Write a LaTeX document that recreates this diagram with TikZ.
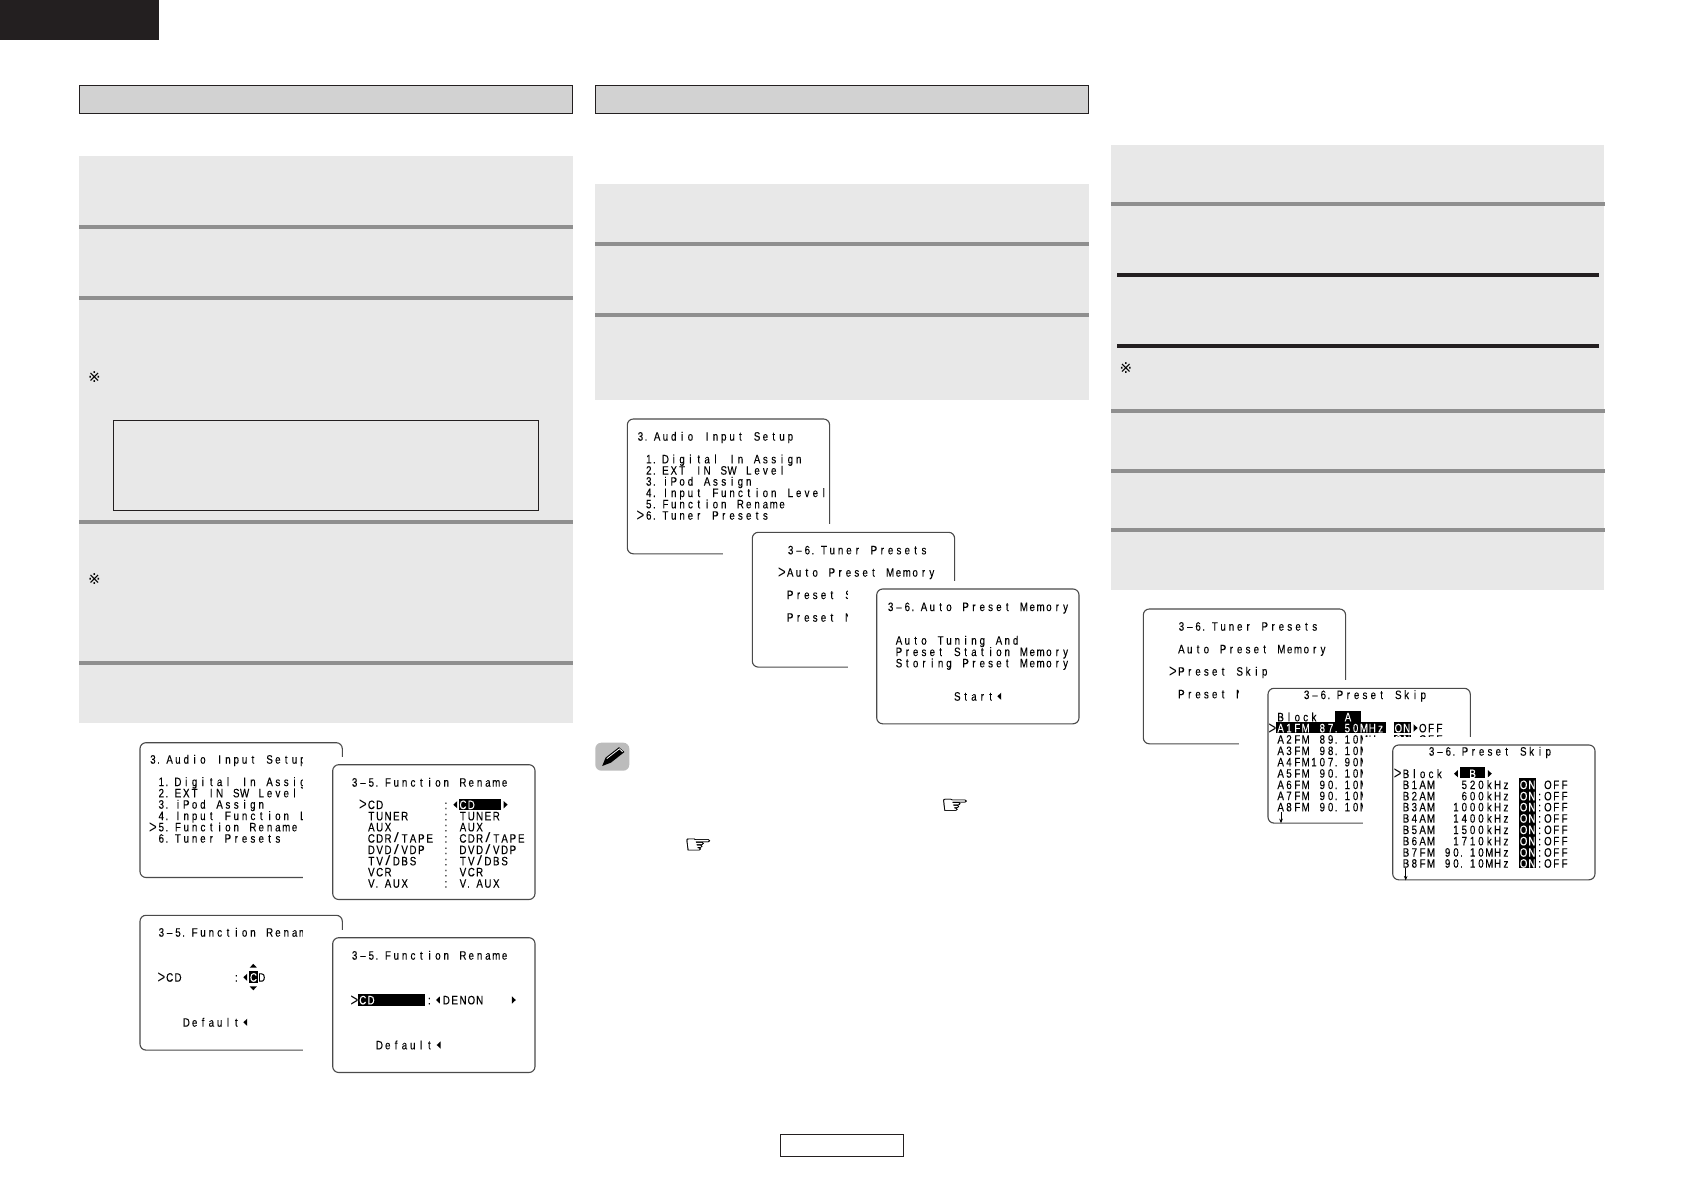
\documentclass[tikz,border=0pt]{standalone}
\usepackage{fontspec}
\usepackage{xcolor}
\usetikzlibrary{arrows.meta}

\newfontfamily\lcdfont[FakeStretch=0.8,FakeBold=0.1]{Liberation Sans}
\newfontfamily\lcdthin[FakeStretch=0.8]{Liberation Sans}
\newfontfamily\symfont{DejaVu Sans}
\newfontfamily\handfont[FakeBold=0.6]{DejaVu Sans}

\definecolor{inkblack}{HTML}{231F20}
\definecolor{headgray}{HTML}{D2D2D2}
\definecolor{panelgray}{HTML}{E8E8E8}
\definecolor{rulegray}{HTML}{8F8F8F}
\definecolor{screenline}{HTML}{4A4A4A}

% one character per cell of the on-screen grid
\def\lcdpitch{8.33pt}
\def\lcdslash{\scalebox{1.9}[1.12]{\lcdthin /}}
\def\lcdmark{\raisebox{-1.7pt}{\scalebox{1.35}[1.5]{\lcdthin >}}}
\def\lcdcell#1{\ifx#1.\makebox[\lcdpitch][l]{.}\else\ifx#1>\makebox[\lcdpitch][c]{\lcdmark}\else\makebox[\lcdpitch][c]{#1}\fi\fi}
\def\lcdnext#1{\ifx#1\relax\else\lcdcell{#1}\expandafter\lcdnext\fi}
\newcommand{\lcdline}[1]{\lcdnext#1\relax}
\newcommand{\lcdtext}[1]{\expandafter\lcdline\expandafter{#1}}
\newcommand{\triLeft}[2]{\fill (#1,#2) -- ++(3.9,-3.6) -- ++(0,7.2) -- cycle;}
\newcommand{\triRight}[2]{\fill (#1,#2) -- ++(-3.9,-3.6) -- ++(0,7.2) -- cycle;}

\tikzset{
  lcd/.style={anchor=base west,inner sep=0pt,outer sep=0pt,yshift=-4.35pt,
    font=\fontsize{12.2}{13}\selectfont\lcdfont},
  lcdinv/.style={lcd,text=white},
  screen/.style={draw=screenline,fill=white,line width=1.1pt,rounded corners=6pt},
  headbar/.style={draw=inkblack,fill=headgray,line width=1.2pt},
  panel/.style={fill=panelgray},
  rulebar/.style={fill=rulegray},
  blackbar/.style={fill=inkblack},
  notemark/.style={font=\fontsize{15}{16}\selectfont\symfont},
  hand/.style={font=\fontsize{25}{26}\selectfont\handfont},
  lcdarrow/.style={-{Stealth[width=3.6pt,length=4.5pt]},line width=0.6pt}
}

\begin{document}
\begin{tikzpicture}[x=1pt,y=-1pt]
    \pgfmathsetmacro{\screenWidth}{202.3}
    \pgfmathsetmacro{\screenHeight}{134.8}
    \useasboundingbox (0,0) rectangle (1682,1190);

    % Corner tab
    \fill[inkblack] (0,0) rectangle (159,40);

    % Head bars
    \draw[headbar] (79.2,85.6) rectangle (572.6,113.4);
    \draw[headbar] (595.4,85.6) rectangle (1088.8,113.4);

    % Left panel
    \fill[panel] (78.8,156) rectangle (573,722.7);
    \foreach \y in {225,296,520,661}
      \fill[rulebar] (78.8,\y) rectangle (573,\y+4);
    \draw[draw=inkblack,line width=1pt] (113.4,420.3) rectangle (538.7,510.3);
    \node[notemark] (noteLeftA) at (94.4,376.7) {※};
    \node[notemark] (noteLeftB) at (94.4,579.3) {※};

    % Middle panel
    \fill[panel] (595,184) rectangle (1089,400);
    \foreach \y in {242,313}
      \fill[rulebar] (595,\y) rectangle (1089,\y+4);

    % Right panel
    \fill[panel] (1111,144.7) rectangle (1604,590);
    \foreach \y in {202,409,469,528}
      \fill[rulebar] (1111,\y) rectangle (1605,\y+4);
    \foreach \y in {273,344}
      \fill[blackbar] (1117,\y) rectangle (1599,\y+4);
    \node[notemark] (noteRight) at (1126,368.3) {※};

    % Page number box
    \draw[draw=inkblack,line width=1.2pt] (780.3,1134.3) rectangle (903.3,1156.3);

    % Note icon and hands
    \fill[rulegray!60,rounded corners=6pt] (595.3,742.7) rectangle (629.3,770.7);
    \fill[black] (602.2,766) -- (605.6,757.6) -- (619,747.2) -- (624.4,752) -- (611,762.6) -- cycle;
    \draw[white,line width=0.8pt] (606.8,758.6) -- (619.4,748.8) -- (622.6,751.8);
    \node[hand] (handA) at (955,806) {\scalebox{1.3}[1]{☞}};
    \node[hand] (handB) at (698.3,845.7) {\scalebox{1.3}[1]{☞}};

    % Audio Input Setup, left column
    \draw[screen] (140,742.7) rectangle ++(\screenWidth,\screenHeight);
    \foreach \i/\y/\txt in {0/759.3/3.Audio~Input~Setup,
                            1/781.7/~1.Digital~In~Assig,
                            2/793/~2.EXT~IN~SW~Level,
                            3/804.3/~3.iPod~Assign,
                            4/815.7/~4.Input~Function~L,
                            5/827/>5.Function~Rename,
                            6/838.3/~6.Tuner~Presets}
      \node[lcd] (audioA\i) at (148.8,\y) {\lcdtext{\txt}};
    \fill[white] (303,756.7) rectangle (346,885);

    % Function Rename list
    \draw[screen] (332.7,764.7) rectangle ++(\screenWidth,\screenHeight);
    \node[lcd] (renameTitle) at (350.5,782.3) {\lcdline{3–5.Function~Rename}};
    \node[lcd] (renameSel) at (358.9,804.7) {\lcdline{>CD}};
    \node[lcd] (renameColon) at (441.8,804.7) {\lcdline{:}};
    \fill[black] (459.3,799) rectangle (501,810.4);
    \node[lcdinv] (renameInv) at (458.8,804.7) {\lcdline{CD}};
    \triLeft{453.3}{804.7}
    \triRight{507.6}{804.7}
    \foreach \i/\y/\txt in {1/816/TUNER,
                            2/827/AUX,
                            3/838.3/CDR\lcdslash TAPE,
                            4/849.7/DVD\lcdslash VDP,
                            5/861/TV\lcdslash DBS,
                            6/872/VCR,
                            7/883.3/V.AUX}{
      \node[lcd] (renameA\i) at (367.2,\y) {\lcdtext{\txt}};
      \node[lcd] (renameC\i) at (441.8,\y) {\lcdline{:}};
      \node[lcd] (renameB\i) at (458.8,\y) {\lcdtext{\txt}};
    }

    % Function Rename, one letter
    \draw[screen] (140,915.3) rectangle ++(\screenWidth,\screenHeight);
    \node[lcd] (letterTitle) at (157.2,932.3) {\lcdline{3–5.Function~Renam}};
    \node[lcd] (letterSel) at (157.2,977.3) {\lcdline{>CD}};
    \node[lcd] (letterColon) at (232.2,977.3) {\lcdline{:}};
    \fill[black] (249.2,971.4) rectangle (258,982.8);
    \node[lcdinv] (letterInv) at (249.3,977.3) {\lcdline{C}};
    \node[lcd] (letterRest) at (257.6,977.3) {\lcdline{D}};
    \triLeft{243.3}{977.3}
    \fill (253.3,963.8) -- ++(3.6,3.9) -- ++(-7.2,0) -- cycle;
    \fill (253.3,990.3) -- ++(3.6,-3.9) -- ++(-7.2,0) -- cycle;
    \node[lcd] (letterDefault) at (182.2,1022.3) {\lcdline{Default}};
    \triLeft{243.3}{1022.3}
    \fill[white] (303,930) rectangle (346,1058);

    % Function Rename, whole name
    \draw[screen] (332.7,937.7) rectangle ++(\screenWidth,\screenHeight);
    \node[lcd] (nameTitle) at (350.5,955.3) {\lcdline{3–5.Function~Rename}};
    \node[lcd] (nameSel) at (350.2,1000) {\lcdline{>}};
    \fill[black] (358.3,994.3) rectangle (425,1005.6);
    \node[lcdinv] (nameInv) at (358.6,1000) {\lcdline{CD}};
    \node[lcd] (nameColon) at (425.2,1000) {\lcdline{:}};
    \triLeft{436}{1000}
    \node[lcd] (nameValue) at (442.2,1000) {\lcdline{DENON}};
    \triRight{515.8}{1000}
    \node[lcd] (nameDefault) at (375.3,1045) {\lcdline{Default}};
    \triLeft{436.7}{1045}

    % Audio Input Setup, middle column
    \draw[screen] (627.3,419) rectangle ++(\screenWidth,\screenHeight);
    \foreach \i/\y/\txt in {0/436.3/3.Audio~Input~Setup,
                            1/459/~1.Digital~In~Assign,
                            2/470.3/~2.EXT~IN~SW~Level,
                            3/481.3/~3.iPod~Assign,
                            4/492.7/~4.Input~Function~Level,
                            5/504/~5.Function~Rename,
                            6/515.3/>6.Tuner~Presets}
      \node[lcd] (audioB\i) at (636.3,\y) {\lcdtext{\txt}};
    \fill[white] (722.7,524) rectangle (834,560);

    % Tuner Presets, middle column
    \draw[screen] (752.3,532.3) rectangle ++(\screenWidth,\screenHeight);
    \foreach \i/\y/\txt in {1/572.3/>Auto~Preset~Memory,
                            2/594.7/~Preset~S,
                            3/617.3/~Preset~N}
      \node[lcd] (tunerA\i) at (777.7,\y) {\lcdtext{\txt}};
    \node[lcd] (tunerATitle) at (786.5,550) {\lcdline{3–6.Tuner~Presets}};
    \fill[white] (848,580.7) rectangle (960,672);

    % Auto Preset Memory
    \draw[screen] (876.7,589) rectangle ++(\screenWidth,\screenHeight);
    \foreach \i/\y/\txt in {0/606.7/3–6.Auto~Preset~Memory,
                            1/640.3/~Auto~Tuning~And,
                            2/651.7/~Preset~Station~Memory,
                            3/663/~Storing~Preset~Memory,
                            4/696.3/~~~~~~~~Start}
      \node[lcd] (autoLine\i) at (886.5,\y) {\lcdtext{\txt}};
    \triLeft{997.3}{696.3}

    % Tuner Presets, right column
    \draw[screen] (1143.3,609) rectangle ++(\screenWidth,\screenHeight);
    \foreach \i/\y/\txt in {1/649/~Auto~Preset~Memory,
                            2/671.3/>Preset~Skip,
                            3/694/~Preset~N}
      \node[lcd] (tunerB\i) at (1168.9,\y) {\lcdtext{\txt}};
    \node[lcd] (tunerBTitle) at (1177.3,626.3) {\lcdline{3–6.Tuner~Presets}};
    \fill[white] (1239,680) rectangle (1350,750);

    % Preset Skip, block A
    \draw[screen] (1268,688.3) rectangle ++(\screenWidth,\screenHeight);
    \node[lcd] (skipATitle) at (1302.5,694.7) {\lcdline{3–6.Preset~Skip}};
    \node[lcd] (skipABlock) at (1276.5,717) {\lcdline{Block}};
    \fill[black] (1335,711) rectangle (1360.7,722.3);
    \node[lcdinv] (skipALetter) at (1343.8,717) {\lcdline{A}};
    \node[lcd] (skipASel) at (1268.3,728) {\lcdline{>}};
    \fill[black] (1276,722.3) rectangle (1386,733.3);
    \node[lcdinv] (skipAInv) at (1276.5,728) {\lcdline{A1FM~87.50MHz}};
    \fill[black] (1394,722.3) rectangle (1411,733.3);
    \node[lcdinv] (skipAOn) at (1394.2,728) {\lcdline{ON}};
    \triRight{1417.6}{728}
    \node[lcd] (skipAOff) at (1418.6,728) {\lcdline{OFF}};
    \foreach \i/\y/\txt in {2/739.3/A2FM~89.10MHz,
                            3/750.7/A3FM~98.10M,
                            4/762/A4FM107.90M,
                            5/773.3/A5FM~90.10M,
                            6/784.7/A6FM~90.10M,
                            7/795.7/A7FM~90.10M,
                            8/807/A8FM~90.10M}
      \node[lcd] (skipARow\i) at (1276.5,\y) {\lcdtext{\txt}};
    \fill[black] (1394,734.8) rectangle (1411,738);
    \node[lcdinv] (skipAOnB) at (1394.2,739.3) {\lcdline{ON}};
    \node[lcd] (skipAOffB) at (1418.6,739.3) {\lcdline{OFF}};
    \draw[lcdarrow] (1281,812) -- (1281,823.2);
    \fill[white] (1363,737.3) rectangle (1476,830);

    % Preset Skip, block B
    \draw[screen] (1392.7,745) rectangle ++(\screenWidth,\screenHeight);
    \node[lcd] (skipBTitle) at (1427.5,751.3) {\lcdline{3–6.Preset~Skip}};
    \node[lcd] (skipBBlock) at (1393.5,773.7) {\lcdline{>Block}};
    \triLeft{1454}{773.7}
    \fill[black] (1460,767.3) rectangle (1485,778.3);
    \node[lcdinv] (skipBLetter) at (1468.5,773.7) {\lcdline{B}};
    \triRight{1491.8}{773.7}
    \fill[black] (1519.3,778.3) rectangle (1536,868.3);
    \foreach \i/\y/\txt/\rest in {1/784.7/~B1AM~~~520kHz/~OFF,
                                  2/796/~B2AM~~~600kHz/:OFF,
                                  3/807/~B3AM~~1000kHz/:OFF,
                                  4/818.3/~B4AM~~1400kHz/:OFF,
                                  5/829.7/~B5AM~~1500kHz/:OFF,
                                  6/841/~B6AM~~1710kHz/:OFF,
                                  7/852.3/~B7FM~90.10MHz/:OFF,
                                  8/863.3/~B8FM~90.10MHz/:OFF}{
      \node[lcd] (skipBRow\i) at (1393.5,\y) {\lcdtext{\txt}};
      \node[lcdinv] (skipBOn\i) at (1519.4,\y) {\lcdline{ON}};
      \node[lcd] (skipBOff\i) at (1535.4,\y) {\lcdtext{\rest}};
    }
    \draw[lcdarrow] (1405.7,868) -- (1405.7,880.4);
\end{tikzpicture}
\end{document}
